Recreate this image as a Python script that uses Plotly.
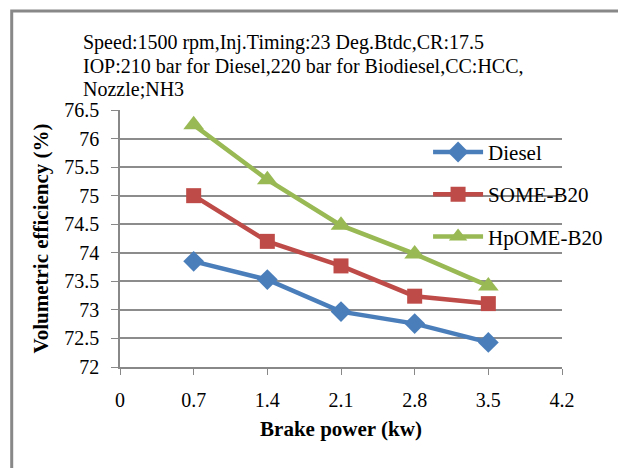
import plotly.graph_objects as go

brake_power = [0.7, 1.4, 2.1, 2.8, 3.5]
diesel = [73.85, 73.53, 72.97, 72.76, 72.43]
some_b20 = [75.0, 74.2, 73.77, 73.24, 73.11]
hpome_b20 = [76.24, 75.28, 74.48, 73.98, 73.42]

x_ticks = [0, 0.7, 1.4, 2.1, 2.8, 3.5, 4.2]
y_ticks = [72, 72.5, 73, 73.5, 74, 74.5, 75, 75.5, 76, 76.5]

title_lines = [
    "Speed:1500 rpm,Inj.Timing:23 Deg.Btdc,CR:17.5",
    "IOP:210 bar for Diesel,220 bar for Biodiesel,CC:HCC,",
    "Nozzle;NH3",
]

series = [
    ("Diesel", diesel, "#4A7EBB", "diamond", 16),
    ("SOME-B20", some_b20, "#BE4B48", "square", 15),
    ("HpOME-B20", hpome_b20, "#98B954", "triangle-up", 18),
]

font = "Liberation Serif, Times New Roman, serif"

fig = go.Figure()
for name, vals, color, sym, size in series:
    fig.add_trace(go.Scatter(
        x=brake_power,
        y=vals,
        name=name,
        legendgroup=name,
        mode="lines+markers",
        line=dict(color=color, width=4.5),
        marker=dict(color=color, symbol=sym, size=size),
    ))

# header text, one annotation per line to get the tight line spacing
for i, line in enumerate(title_lines):
    fig.add_annotation(
        x=-0.089, y=1.261 - i * 0.0895, xref="paper", yref="paper",
        xanchor="left", yanchor="middle", showarrow=False,
        text=line, font=dict(size=20),
    )

fig.update_layout(
    width=612,
    height=460,
    margin=dict(l=112, r=52, t=102, b=101),
    plot_bgcolor="white",
    paper_bgcolor="white",
    font=dict(family=font, size=20, color="black"),
    showlegend=True,
    legend=dict(
        x=0.697, y=0.915, xanchor="left", yanchor="top",
        bgcolor="rgba(0,0,0,0)",
        tracegroupgap=12,
        font=dict(size=21),
        itemwidth=50,
    ),
    xaxis=dict(
        range=[0, 4.2],
        tickvals=x_ticks,
        ticktext=[str(v) for v in x_ticks],
        showgrid=False,
        zeroline=False,
        showline=True,
        linecolor="#888888",
        linewidth=1.5,
        ticks="outside",
        ticklen=6,
        tickcolor="#888888",
        ticklabelstandoff=8,
        title=dict(text="<b>Brake power (kw)</b>", font=dict(size=21), standoff=12),
    ),
    yaxis=dict(
        range=[72, 76.5],
        tickvals=y_ticks,
        ticktext=[f"{v:g}" for v in y_ticks],
        showgrid=True,
        gridcolor="#8c8c8c",
        gridwidth=1.5,
        zeroline=False,
        showline=True,
        linecolor="#888888",
        linewidth=1.5,
        ticks="outside",
        ticklen=7,
        tickcolor="#888888",
        ticklabelstandoff=8,
        title=dict(text="<b>Volumetric efficiency (%)</b>", font=dict(size=21), standoff=10),
    ),
    shapes=[
        dict(type="rect", xref="paper", yref="paper",
             x0=-0.245, y0=-0.6, x1=1.3, y1=1.385,
             line=dict(color="#888888", width=3), layer="below"),
    ],
)

fig.write_html("out.html")
